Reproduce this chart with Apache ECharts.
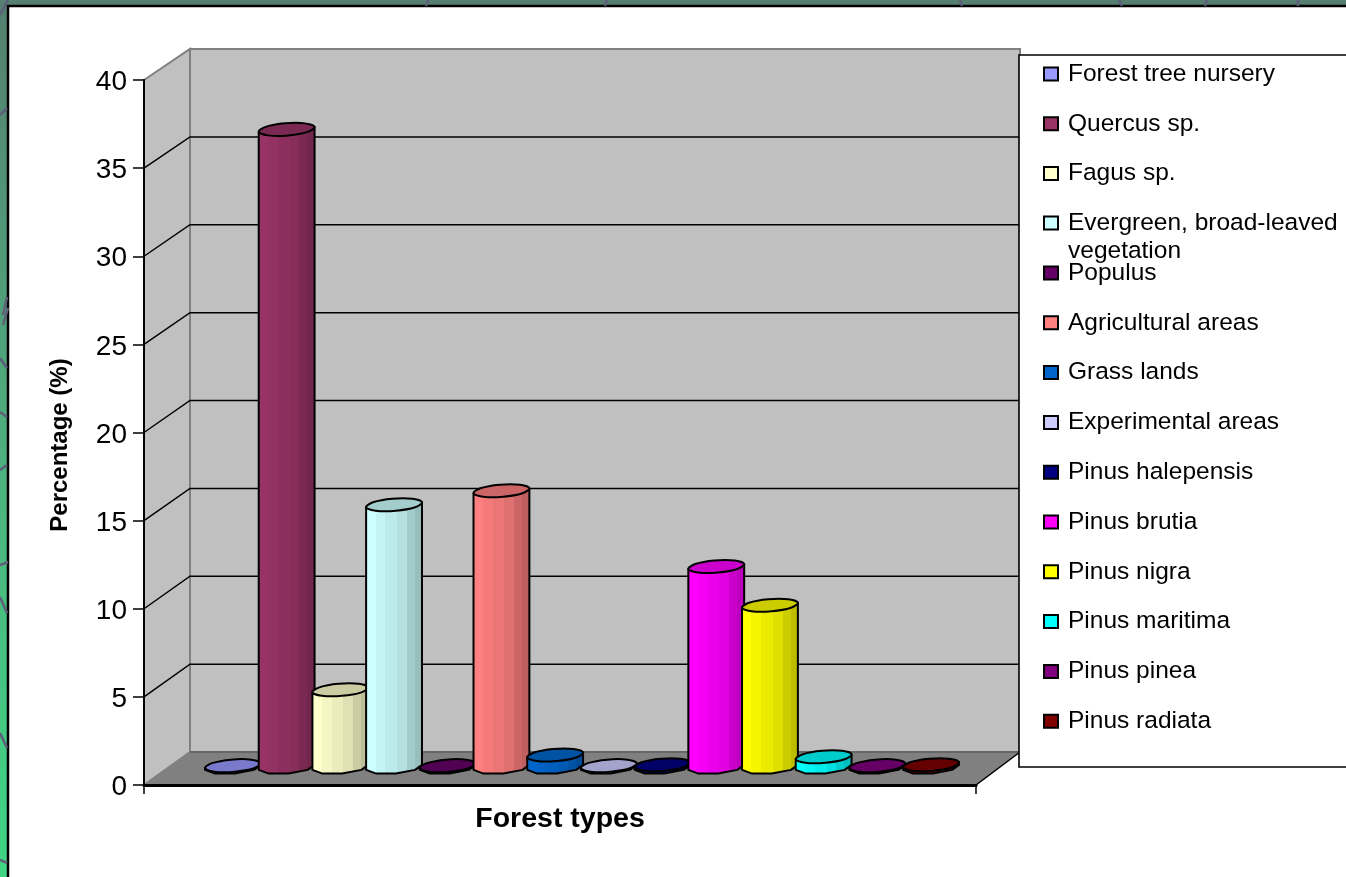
<!DOCTYPE html>
<html>
<head>
<meta charset="utf-8">
<style>html,body{margin:0;padding:0;background:#fff}#chart{width:1346px;height:877px}</style>
<script src="https://cdn.jsdelivr.net/npm/echarts@6/dist/echarts.min.js"></script>
</head>
<body>
<div id="chart"></div>
<script>
// Share of forest area by type, one cylinder per type.
const forestTypes = ['Forest tree nursery','Quercus sp.','Fagus sp.','Evergreen, broad-leaved vegetation','Populus','Agricultural areas','Grass lands','Experimental areas','Pinus halepensis','Pinus brutia','Pinus nigra','Pinus maritima','Pinus pinea','Pinus radiata'];
const percentages = [0.1,36.2,4.4,14.9,0.1,15.7,0.7,0.1,0.15,11.4,9.2,0.6,0.1,0.15];
const palette = ['#9999FF','#993366','#FFFFCC','#CCFFFF','#660066','#FF8080','#0066CC','#CCCCFF','#000080','#FF00FF','#FFFF00','#00FFFF','#800080','#800000'];
const valueTicks = [0,5,10,15,20,25,30,35,40];

const FONT = '"Liberation Sans", Arial, sans-serif';
const WALL_DX = 46, WALL_DX_RIGHT = 44;  // depth of the box behind the front plane
const wallDy = v => 33 - v * 0.05;
const BAR_DX = 22, BAR_DY = 17.6;        // cylinder axis position inside that depth
const STEP_RATIO = 53.7 / 832;           // cylinder spacing as a share of the band
const RX = 26.5, SKEW_X = 9, RY = 6.5;   // cylinder cross-section

function shade(hex, k) {
  const n = parseInt(hex.slice(1), 16);
  const c = s => Math.round(((n >> s) & 255) * k);
  return 'rgb(' + c(16) + ',' + c(8) + ',' + c(0) + ')';
}

// Vertex k of the eight-sided, skewed cylinder cross-section.
function rim(cx, cy, k) {
  const t = Math.PI / 8 + k * Math.PI / 4;
  return [cx + RX * Math.cos(t) + SKEW_X * Math.sin(t), cy - RY * Math.sin(t)];
}

// Vertical facets of a cylinder side, lit from the left.
function facetFill(color) {
  const bands = [[0, 0.18, 1], [0.18, 0.35, 0.96], [0.35, 0.55, 0.92], [0.55, 0.72, 0.88], [0.72, 0.86, 0.8], [0.86, 1, 0.74]];
  const stops = [];
  bands.forEach(b => {
    stops.push({ offset: b[0], color: shade(color, b[2]) }, { offset: b[1], color: shade(color, b[2]) });
  });
  return new echarts.graphic.LinearGradient(0, 0, 1, 0, stops);
}

function cylinderItem(index) {
  return function (params, api) {
    const v = api.value(1);
    const base = api.coord([0, 0]);
    const top = api.coord([0, v]);
    const band = api.size([1, 0])[0];
    const cx = base[0] + (index - 6.5) * band * STEP_RATIO + BAR_DX;
    const yBase = base[1] - BAR_DY;
    const yTop = top[1] - BAR_DY;
    const lid = [];
    for (let k = 0; k < 8; k++) lid.push(rim(cx, yTop, k));
    const body = [rim(cx, yTop, 4), rim(cx, yBase, 4), rim(cx, yBase, 5), rim(cx, yBase, 6), rim(cx, yBase, 7), rim(cx, yBase, 0), rim(cx, yTop, 0)];
    const color = palette[index];
    return {
      type: 'group',
      children: [
        { type: 'polygon', shape: { points: body }, style: { fill: facetFill(color), stroke: '#000', lineWidth: 2, lineJoin: 'round' } },
        { type: 'polygon', shape: { points: lid, smooth: 0.35 }, style: { fill: shade(color, 0.8), stroke: '#000', lineWidth: 2, lineJoin: 'round' } }
      ]
    };
  };
}

// Walls, floor and the gridlines on the back wall and the side wall.
function boxItem(params, api) {
  const v = api.value(0);
  const a = api.coord([0, v]);
  const band = api.size([1, 0])[0];
  const xL = a[0] - band / 2, xR = a[0] + band / 2;
  const backL = xL + WALL_DX, backR = xR + WALL_DX_RIGHT;
  const children = [];
  if (params.dataIndex === 0) {
    const top = api.coord([0, 40])[1];
    const y0 = a[1];
    const yTopBack = top - wallDy(40), yBack = y0 - wallDy(0);
    children.push(
      { type: 'polygon', shape: { points: [[backL, yTopBack], [backR, yTopBack], [backR, yBack], [backL, yBack]] }, style: { fill: '#C0C0C0', stroke: '#808080', lineWidth: 2 } },
      { type: 'polygon', shape: { points: [[xL, top], [backL, yTopBack], [backL, yBack], [xL, y0]] }, style: { fill: '#C0C0C0', stroke: '#808080', lineWidth: 2 } },
      { type: 'polygon', shape: { points: [[xL, y0], [backL, yBack], [backR, yBack], [xR, y0]] }, style: { fill: '#808080', stroke: '#808080', lineWidth: 1 } },
      { type: 'line', shape: { x1: backL, y1: yBack, x2: backR, y2: yBack }, style: { stroke: '#666', lineWidth: 2 } },
      { type: 'line', shape: { x1: xR, y1: y0, x2: backR, y2: yBack }, style: { stroke: '#000', lineWidth: 1.5 } }
    );
  } else if (v < 40) {
    const dy = wallDy(v);
    children.push({ type: 'polyline', shape: { points: [[xL, a[1]], [backL, a[1] - dy], [backR, a[1] - dy]] }, style: { fill: null, stroke: '#000', lineWidth: 1.5 } });
  }
  return { type: 'group', children: children };
}

const cylinderSeries = forestTypes.map((name, i) => ({
  type: 'custom',
  name: name,
  coordinateSystem: 'cartesian2d',
  clip: false,
  z: 3 + i,
  itemStyle: { color: palette[i] },
  encode: { x: 0, y: 1 },
  data: [['Forest types', percentages[i]]],
  renderItem: cylinderItem(i)
}));

const boxSeries = {
  type: 'custom',
  name: 'box',
  coordinateSystem: 'cartesian2d',
  clip: false,
  silent: true,
  z: 1,
  encode: { y: 0 },
  data: valueTicks.map(v => [v]),
  renderItem: boxItem
};

function legendBlock(names, top) {
  return {
    orient: 'vertical',
    left: 1043,
    top: top,
    padding: 0,
    itemGap: 21.8,
    itemWidth: 14,
    itemHeight: 13,
    icon: 'rect',
    selectedMode: false,
    z: 20,
    formatter: n => n === forestTypes[3] ? '\nEvergreen, broad-leaved\nvegetation' : n,
    textStyle: { fontFamily: FONT, fontSize: 24.5, color: '#000', lineHeight: 28, padding: [0, 0, 0, 5] },
    itemStyle: { borderColor: '#000', borderWidth: 2 },
    data: names.map(n => ({ name: n, itemStyle: { color: palette[forestTypes.indexOf(n)], borderColor: '#000', borderWidth: 2 } }))
  };
}

// Branch strokes of the slide backdrop showing around the white panel.
const branchPieces = [
  [[0,15],[8,0]], [[0,115],[7,108]], [[7,297],[3,315]], [[8,308],[3,325]], [[0,358],[7,368]],
  [[0,412],[7,417]], [[0,470],[7,465]], [[0,565],[8,562]], [[0,597],[7,613]],
  [[0,733],[7,748]], [[0,860],[7,863]], [[428,0],[426,6]], [[607,0],[605,6]],
  [[960,0],[962,6]], [[1119,0],[1122,6]], [[1207,0],[1205,6]], [[1298,0],[1298,6]]
].map(p => ({
  type: 'line', silent: true, z: 1,
  shape: { x1: p[0][0], y1: p[0][1], x2: p[1][0], y2: p[1][1] },
  style: { stroke: '#5E5E78', lineWidth: 2.5 }
}));

const chart = echarts.init(document.getElementById('chart'), null, { renderer: 'canvas', width: 1346, height: 877 });
chart.setOption({
  animation: false,
  backgroundColor: new echarts.graphic.LinearGradient(0, 0, 0, 1, [
    { offset: 0, color: '#557F70' }, { offset: 0.55, color: '#4DB37F' }, { offset: 1, color: '#3FD584' }
  ]),
  grid: { left: 144, right: 370, top: 80, bottom: 92, containLabel: false },
  xAxis: {
    type: 'category',
    z: 30,
    data: ['Forest types'],
    name: 'Forest types',
    nameLocation: 'middle',
    nameGap: 20,
    nameTextStyle: { fontFamily: FONT, fontSize: 28.5, fontWeight: 'bold', color: '#000' },
    axisLine: { lineStyle: { color: '#000', width: 3 } },
    axisTick: { show: true, interval: 0, alignWithLabel: false, length: 9, lineStyle: { color: '#000', width: 1.5 } },
    axisLabel: { show: false },
    splitLine: { show: false }
  },
  yAxis: {
    type: 'value',
    z: 30,
    min: 0,
    max: 40,
    interval: 5,
    name: 'Percentage (%)',
    nameLocation: 'middle',
    nameGap: 72,
    nameTextStyle: { fontFamily: FONT, fontSize: 24, fontWeight: 'bold', color: '#000', padding: [0, 25, 0, 0] },
    axisLine: { show: true, lineStyle: { color: '#000', width: 2 } },
    axisTick: { show: true, length: 11, lineStyle: { color: '#000', width: 1.5 } },
    axisLabel: { fontFamily: FONT, fontSize: 28, color: '#000', margin: 17, verticalAlign: 'top', lineHeight: 5 },
    splitLine: { show: false }
  },
  legend: [
    legendBlock(forestTypes.slice(0, 3), 60),
    legendBlock(forestTypes.slice(3, 4), 181),
    legendBlock(forestTypes.slice(4), 259)
  ],
  graphic: [
    { type: 'rect', silent: true, z: 0, shape: { x: 8, y: 6, width: 1400, height: 900 }, style: { fill: '#fff', stroke: '#000', lineWidth: 2.5 } },
    { type: 'rect', silent: true, z: 10, shape: { x: 1019, y: 55, width: 400, height: 712 }, style: { fill: '#fff', stroke: '#000', lineWidth: 1.6 } }
  ].concat(branchPieces),
  series: [boxSeries].concat(cylinderSeries)
});
</script>
</body>
</html>
